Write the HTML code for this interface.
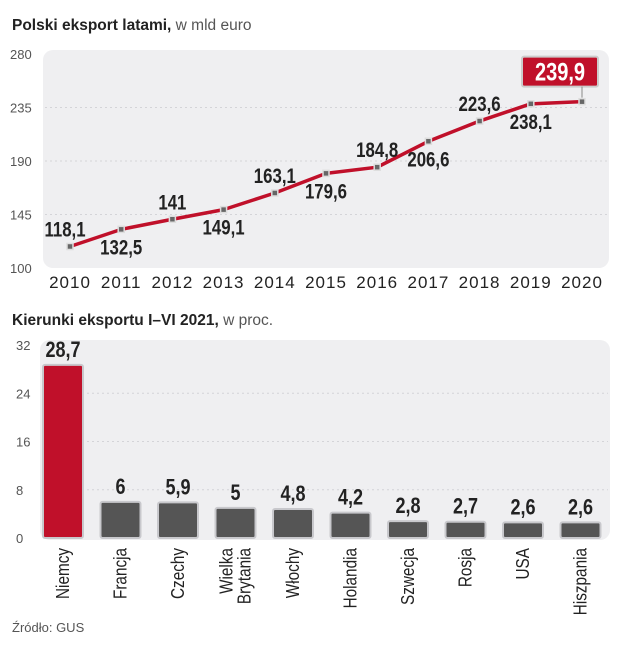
<!DOCTYPE html>
<html><head><meta charset="utf-8"><style>
body{margin:0;background:#fff;width:618px;height:640px;overflow:hidden;font-family:"Liberation Sans",sans-serif}
svg text{font-family:"Liberation Sans",sans-serif}
.num{font-weight:bold;fill:#222;font-size:20px}
.ax{fill:#555;font-size:13px}
</style></head><body>
<svg id="c" width="618" height="640">
<text x="12" y="30" font-size="15.5" fill="#222"><tspan font-weight="bold">Polski eksport latami,</tspan><tspan fill="#555"> w mld euro</tspan></text>
<rect x="43" y="50" width="566" height="218" rx="10" fill="#efeff1"/>
<text x="12" y="325" font-size="15.5" fill="#222"><tspan font-weight="bold">Kierunki eksportu I–VI 2021,</tspan><tspan fill="#555"> w proc.</tspan></text>
<rect x="40" y="340" width="570" height="200" rx="10" fill="#efeff1"/>
<text x="12" y="632" font-size="13" fill="#555">Źródło: GUS</text>
</svg>
<script>
const years=["2010","2011","2012","2013","2014","2015","2016","2017","2018","2019","2020"];
const exportVals=[118.1,132.5,141,149.1,163.1,179.6,184.8,206.6,223.6,238.1,239.9];
const exportLabels=["118,1","132,5","141","149,1","163,1","179,6","184,8","206,6","223,6","238,1","239,9"];
const labelAbove=[true,false,true,false,true,false,true,false,true,false,true];
const yTicks=[100,145,190,235,280];
const countries=[["Niemcy"],["Francja"],["Czechy"],["Wielka","Brytania"],["Włochy"],["Holandia"],["Szwecja"],["Rosja"],["USA"],["Hiszpania"]];
const shares=[28.7,6,5.9,5,4.8,4.2,2.8,2.7,2.6,2.6];
const shareLabels=["28,7","6","5,9","5","4,8","4,2","2,8","2,7","2,6","2,6"];
const barTicks=[0,8,16,24,32];

const svg=document.getElementById('c');const NS="http://www.w3.org/2000/svg";
function mk(t,a,p){const e=document.createElementNS(NS,t);for(const k in a)e.setAttribute(k,a[k]);(p||svg).appendChild(e);return e;}
function narrow(t,f){const w=t.getComputedTextLength();t.setAttribute('textLength',(w*f).toFixed(1));t.setAttribute('lengthAdjust','spacingAndGlyphs');}
const lx=i=>70+i*51.2, ly=v=>268-(v-100)*(214/180);
yTicks.forEach(v=>{
 if(v>100&&v<280){const g=mk('line',{x1:45,x2:607,y1:ly(v),y2:ly(v),stroke:'#d4d4d8','stroke-dasharray':'2,3'});
 }
 const t=mk('text',{x:10,y:ly(v)+5,class:'ax'});t.textContent=v;
 
});
years.forEach((y,i)=>{const t=mk('text',{x:lx(i),y:288,'text-anchor':'middle','font-size':'17','fill':'#222','letter-spacing':'1'});t.textContent=y;
 });
const pl=mk('polyline',{points:exportVals.map((v,i)=>lx(i)+','+ly(v)).join(' '),fill:'none',stroke:'#c0102a','stroke-width':'3.5','stroke-linejoin':'round'});

exportVals.forEach((v,i)=>{
 const m=mk('rect',{x:lx(i)-3,y:ly(v)-3,width:6,height:6,fill:'#666',stroke:'#ddd','stroke-width':'1.5'});
 
 if(i===exportVals.length-1){
  const b=mk('rect',{x:lx(i)-60,y:ly(v)-45,width:76,height:30,fill:'#c0102a',stroke:'#ccc','stroke-width':'2',rx:2});
  
  mk('line',{x1:lx(i),x2:lx(i),y1:ly(v)-15,y2:ly(v)-4,stroke:'#888'});
  const t=mk('text',{x:lx(i)-22,y:ly(v)-21,'text-anchor':'middle',class:'num',style:'fill:#fff;font-size:25px'});t.textContent=exportLabels[i];
  narrow(t,0.8);
 }else{
  const t=mk('text',{x:lx(i)+(i===0?-5:0),y:labelAbove[i]?ly(v)-10:ly(v)+25,'text-anchor':'middle',class:'num',style:'font-size:21px'});t.textContent=exportLabels[i];
  narrow(t,0.8);
 }
});
const bx=i=>43+i*57.5, by=v=>538-v*(193/32);
barTicks.forEach(v=>{
 if(v>0&&v<32){const g=mk('line',{x1:42,x2:608,y1:by(v),y2:by(v),stroke:'#d4d4d8','stroke-dasharray':'2,3'});
 }
 const t=mk('text',{x:16,y:by(v)+5,class:'ax'});t.textContent=v;
 
});
shares.forEach((v,i)=>{
 const r=mk('rect',{x:bx(i),y:by(v),width:40,height:538-by(v),rx:2,fill:i===0?'#c0102a':'#555',stroke:'#c8c8cc','stroke-width':'2'});
 
 const t=mk('text',{x:bx(i)+20,y:by(v)-8,'text-anchor':'middle',class:'num',style:'font-size:22px'});t.textContent=shareLabels[i];
 narrow(t,0.82);
 const lines=countries[i];
 lines.forEach((s,j)=>{
  const cx=bx(i)+20+(j-(lines.length-1)/2)*18+6;
  const t2=mk('text',{x:cx,y:548,'text-anchor':'end','font-size':'18',fill:'#222',transform:'rotate(-90 '+cx+' 548)'});t2.textContent=s;
  narrow(t2,0.85);
 });
});
</script>
</body></html>
